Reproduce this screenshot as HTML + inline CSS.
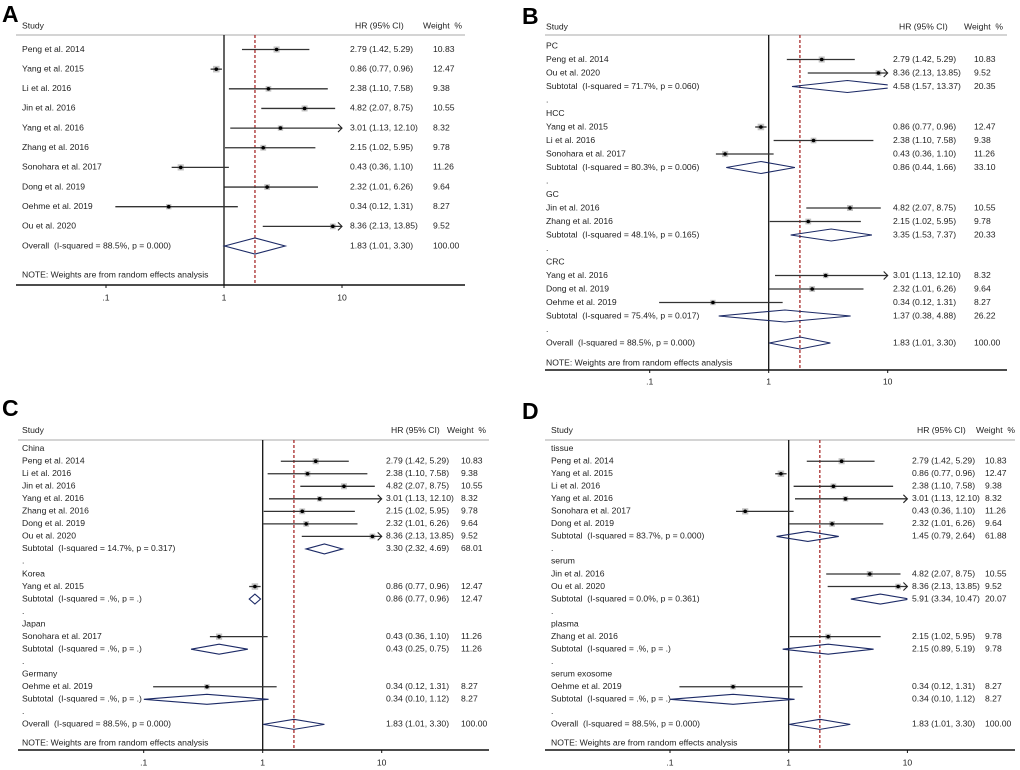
<!DOCTYPE html>
<html><head><meta charset="utf-8">
<style>
html,body{margin:0;padding:0;background:#fff;}
svg{display:block;font-family:"Liberation Sans",Arial,sans-serif;}
text{fill:#222;font-size:8.6px;white-space:pre;}
.big{font-size:23px;font-weight:bold;fill:#000;}
</style></head>
<body>
<svg id="chart" width="1020" height="770" viewBox="0 0 1020 770" xmlns="http://www.w3.org/2000/svg" xml:space="preserve">
<text class="big" x="2" y="22">A</text>
<text class="big" x="522" y="24">B</text>
<text class="big" x="2" y="416">C</text>
<text class="big" x="522" y="419">D</text>
</svg>
<script>
// ---------- Panel A data ----------
const typesA = ['s','s','s','s','s','s','s','s','s','s','o'];
const labelsA = ['Peng et al. 2014','Yang et al. 2015','Li et al. 2016','Jin et al. 2016','Yang et al. 2016','Zhang et al. 2016','Sonohara et al. 2017','Dong et al. 2019','Oehme et al. 2019','Ou et al. 2020','Overall  (I-squared = 88.5%, p = 0.000)'];
const hrA = [2.79,0.86,2.38,4.82,3.01,2.15,0.43,2.32,0.34,8.36,1.83];
const loA = [1.42,0.77,1.10,2.07,1.13,1.02,0.36,1.01,0.12,2.13,1.01];
const hiA = [5.29,0.96,7.58,8.75,12.10,5.95,1.10,6.26,1.31,13.85,3.30];
const wtA = [10.83,12.47,9.38,10.55,8.32,9.78,11.26,9.64,8.27,9.52,100.00];

// ---------- Panel B data ----------
const typesB = ['g','s','s','t','b','g','s','s','s','t','b','g','s','s','t','b','g','s','s','s','t','b','o'];
const labelsB = ['PC','Peng et al. 2014','Ou et al. 2020','Subtotal  (I-squared = 71.7%, p = 0.060)','.','HCC','Yang et al. 2015','Li et al. 2016','Sonohara et al. 2017','Subtotal  (I-squared = 80.3%, p = 0.006)','.','GC','Jin et al. 2016','Zhang et al. 2016','Subtotal  (I-squared = 48.1%, p = 0.165)','.','CRC','Yang et al. 2016','Dong et al. 2019','Oehme et al. 2019','Subtotal  (I-squared = 75.4%, p = 0.017)','.','Overall  (I-squared = 88.5%, p = 0.000)'];
const hrB = [null,2.79,8.36,4.58,null,null,0.86,2.38,0.43,0.86,null,null,4.82,2.15,3.35,null,null,3.01,2.32,0.34,1.37,null,1.83];
const loB = [null,1.42,2.13,1.57,null,null,0.77,1.10,0.36,0.44,null,null,2.07,1.02,1.53,null,null,1.13,1.01,0.12,0.38,null,1.01];
const hiB = [null,5.29,13.85,13.37,null,null,0.96,7.58,1.10,1.66,null,null,8.75,5.95,7.37,null,null,12.10,6.26,1.31,4.88,null,3.30];
const wtB = [null,10.83,9.52,20.35,null,null,12.47,9.38,11.26,33.10,null,null,10.55,9.78,20.33,null,null,8.32,9.64,8.27,26.22,null,100.00];

// ---------- Panel C data ----------
const typesC = ['g','s','s','s','s','s','s','s','t','b','g','s','t','b','g','s','t','b','g','s','t','b','o'];
const labelsC = ['China','Peng et al. 2014','Li et al. 2016','Jin et al. 2016','Yang et al. 2016','Zhang et al. 2016','Dong et al. 2019','Ou et al. 2020','Subtotal  (I-squared = 14.7%, p = 0.317)','.','Korea','Yang et al. 2015','Subtotal  (I-squared = .%, p = .)','.','Japan','Sonohara et al. 2017','Subtotal  (I-squared = .%, p = .)','.','Germany','Oehme et al. 2019','Subtotal  (I-squared = .%, p = .)','.','Overall  (I-squared = 88.5%, p = 0.000)'];
const hrC = [null,2.79,2.38,4.82,3.01,2.15,2.32,8.36,3.30,null,null,0.86,0.86,null,null,0.43,0.43,null,null,0.34,0.34,null,1.83];
const loC = [null,1.42,1.10,2.07,1.13,1.02,1.01,2.13,2.32,null,null,0.77,0.77,null,null,0.36,0.25,null,null,0.12,0.10,null,1.01];
const hiC = [null,5.29,7.58,8.75,12.10,5.95,6.26,13.85,4.69,null,null,0.96,0.96,null,null,1.10,0.75,null,null,1.31,1.12,null,3.30];
const wtC = [null,10.83,9.38,10.55,8.32,9.78,9.64,9.52,68.01,null,null,12.47,12.47,null,null,11.26,11.26,null,null,8.27,8.27,null,100.00];

// ---------- Panel D data ----------
const typesD = ['g','s','s','s','s','s','s','t','b','g','s','s','t','b','g','s','t','b','g','s','t','b','o'];
const labelsD = ['tissue','Peng et al. 2014','Yang et al. 2015','Li et al. 2016','Yang et al. 2016','Sonohara et al. 2017','Dong et al. 2019','Subtotal  (I-squared = 83.7%, p = 0.000)','.','serum','Jin et al. 2016','Ou et al. 2020','Subtotal  (I-squared = 0.0%, p = 0.361)','.','plasma','Zhang et al. 2016','Subtotal  (I-squared = .%, p = .)','.','serum exosome','Oehme et al. 2019','Subtotal  (I-squared = .%, p = .)','.','Overall  (I-squared = 88.5%, p = 0.000)'];
const hrD = [null,2.79,0.86,2.38,3.01,0.43,2.32,1.45,null,null,4.82,8.36,5.91,null,null,2.15,2.15,null,null,0.34,0.34,null,1.83];
const loD = [null,1.42,0.77,1.10,1.13,0.36,1.01,0.79,null,null,2.07,2.13,3.34,null,null,1.02,0.89,null,null,0.12,0.10,null,1.01];
const hiD = [null,5.29,0.96,7.58,12.10,1.10,6.26,2.64,null,null,8.75,13.85,10.47,null,null,5.95,5.19,null,null,1.31,1.12,null,3.30];
const wtD = [null,10.83,12.47,9.38,8.32,11.26,9.64,61.88,null,null,10.55,9.52,20.07,null,null,9.78,9.78,null,null,8.27,8.27,null,100.00];

const tickVals = [0.1, 1, 10];
const tickText = ['.1', '1', '10'];
const pooledHR = 1.83;

const NS = 'http://www.w3.org/2000/svg';
const svg = document.getElementById('chart');
function mk(tag, attrs, parent) {
  const e = document.createElementNS(NS, tag);
  for (const k in attrs) e.setAttribute(k, attrs[k]);
  (parent || svg).appendChild(e);
  return e;
}
function txt(x, y, s, parent, anchor) {
  const t = mk('text', {x: x, y: y, 'dominant-baseline': 'middle'}, parent);
  if (anchor) t.setAttribute('text-anchor', anchor);
  t.textContent = s;
  return t;
}

function panel(id, L, types, labels, hr, lo, hi, wt) {
  const g = mk('g', {});
  
  
  const xs = v => L.x1 + Math.log10(v) * L.dec;
  const ys = i => L.row0 + i * L.step;
  const xmin = xs(0.1), xmax = xs(10);
  const hs = txt(L.labelX, L.headY, 'Study', g);
  
  
  const hh = txt(L.hrHeadX, L.headY, 'HR (95% CI)', g);
  
  
  const hw = txt(L.wtHeadX, L.headY, 'Weight  %', g);
  
  
  mk('line', {x1: L.left, x2: L.right, y1: L.headLine, y2: L.headLine, stroke: '#bbb', 'stroke-width': 1.2}, g);
  const ax = mk('line', {x1: L.left, x2: L.right, y1: L.axisY, y2: L.axisY, stroke: '#111', 'stroke-width': 1.6}, g);
  
  
  tickVals.forEach((v, i) => {
    mk('line', {x1: xs(v), x2: xs(v), y1: L.axisY, y2: L.axisY + 3, stroke: '#111', 'stroke-width': 1}, g);
    const t = txt(xs(v), L.tickY, tickText[i], g, 'middle');
    
    
  });
  const nl = mk('line', {x1: xs(1), x2: xs(1), y1: L.headLine, y2: L.axisY, stroke: '#111', 'stroke-width': 1.3}, g);
  
  
  const dl = mk('line', {x1: xs(pooledHR), x2: xs(pooledHR), y1: L.headLine, y2: L.axisY, stroke: '#a01818', 'stroke-width': 1.2, 'stroke-dasharray': '3,2'}, g);
  
  
  const cp = mk('clipPath', {id: 'clip' + id}, g);
  mk('rect', {x: xmin, y: 0, width: xmax - xmin, height: 770}, cp);

  labels.forEach((lab, i) => {
    const y = ys(i);
    const tp = types[i];
    const lt = txt(L.labelX, y, lab, g);
    
    
    if (hr[i] == null) return;
    const ht = txt(L.hrX, y, hr[i].toFixed(2) + ' (' + lo[i].toFixed(2) + ', ' + hi[i].toFixed(2) + ')', g);
    
    
    const wtt = txt(L.wtX, y, wt[i].toFixed(2), g);
    
    
    if (tp === 's') {
      const x1 = Math.max(xs(lo[i]), xmin), x2 = Math.min(xs(hi[i]), xmax);
      const sq = Math.sqrt(wt[i]) * 1.85;
      const r = mk('rect', {x: xs(hr[i]) - sq / 2, y: y - sq / 2, width: sq, height: sq, fill: '#c4c4c4'}, g);
      
      
      const ci = mk('line', {x1: x1, x2: x2, y1: y, y2: y, stroke: '#333', 'stroke-width': 1.3}, g);
      
      
      if (hi[i] > 10) mk('path', {d: `M${xmax - 4},${y - 4} L${xmax},${y} L${xmax - 4},${y + 4}`, fill: 'none', stroke: '#222', 'stroke-width': 1.1}, g);
      if (lo[i] < 0.1) mk('path', {d: `M${xmin + 4},${y - 4} L${xmin},${y} L${xmin + 4},${y + 4}`, fill: 'none', stroke: '#222', 'stroke-width': 1.1}, g);
      const pt = mk('circle', {cx: xs(hr[i]), cy: y, r: 1.8, fill: '#000'}, g);
      
      
    } else {
      const h = L.dh / 2;
      const d = mk('polygon', {points: `${xs(lo[i])},${y} ${xs(hr[i])},${y - h} ${xs(hi[i])},${y} ${xs(hr[i])},${y + h}`, fill: 'none', stroke: '#1c2a66', 'stroke-width': 1.1, 'clip-path': 'url(#clip' + id + ')'}, g);
      
      
    }
  });
  const nt = txt(L.labelX, L.noteY, 'NOTE: Weights are from random effects analysis', g);
  
  
}

panel('a', {x1: 224, dec: 118, left: 16, right: 465, headLine: 35, axisY: 285, headY: 26, row0: 49.5, step: 19.65, labelX: 22, hrX: 350, wtX: 433, hrHeadX: 355, wtHeadX: 423, noteY: 275, tickY: 298, dh: 16},
  typesA, labelsA, hrA, loA, hiA, wtA);
panel('b', {x1: 768.7, dec: 119, left: 545, right: 1007, headLine: 35, axisY: 370, headY: 27, row0: 46, step: 13.5, labelX: 546, hrX: 893, wtX: 974, hrHeadX: 899, wtHeadX: 964, noteY: 363, tickY: 382, dh: 12},
  typesB, labelsB, hrB, loB, hiB, wtB);
panel('c', {x1: 262.7, dec: 119, left: 18, right: 489, headLine: 440, axisY: 750, headY: 430.7, row0: 448.7, step: 12.53, labelX: 22, hrX: 386, wtX: 461, hrHeadX: 391, wtHeadX: 447, noteY: 743, tickY: 763, dh: 10},
  typesC, labelsC, hrC, loC, hiC, wtC);
panel('d', {x1: 788.7, dec: 118.7, left: 545, right: 1015, headLine: 440, axisY: 750, headY: 430.7, row0: 448.7, step: 12.53, labelX: 551, hrX: 912, wtX: 985, hrHeadX: 917, wtHeadX: 976, noteY: 743, tickY: 763, dh: 10},
  typesD, labelsD, hrD, loD, hiD, wtD);
</script>
</body></html>
